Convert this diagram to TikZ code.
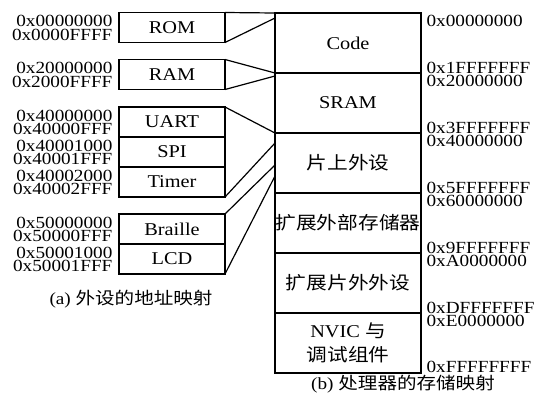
\documentclass[tikz,border=0pt]{standalone}
\usepackage{fontspec}
\setmainfont{Liberation Serif}[FakeStretch=1.13]
\newfontfamily\cjk{Noto Sans CJK SC}[FakeStretch=1.15]
\usetikzlibrary{positioning}

\begin{document}
\begin{tikzpicture}[x=0.5pt, y=-0.5pt, line width=0.6pt,
    bigbox/.style={draw, minimum width=73pt, minimum height=30pt, inner sep=0pt, outer sep=0pt, font=\fontsize{9}{11}\selectfont},
    smallbox/.style={draw, minimum width=53pt, minimum height=15pt, inner sep=0pt, outer sep=0pt, font=\fontsize{9}{10}\selectfont},
    addr/.style={inner sep=0pt, font=\fontsize{8.5}{9}\selectfont},
    caption/.style={inner sep=0pt, font=\fontsize{8.5}{10}\selectfont}]
    \useasboundingbox (0,0) rectangle (539,397);
    % processor memory map
    \node[bigbox] (code) at (348,43) {Code};
    \node[bigbox, below=0pt of code] (sram) {SRAM};
    \node[bigbox, below=0pt of sram] (onchip) {\cjk 片上外设};
    \node[bigbox, below=0pt of onchip] (extmem) {\cjk 扩展外部存储器};
    \node[bigbox, below=0pt of extmem] (extdev) {\cjk 扩展片外外设};
    \node[bigbox, below=0pt of extdev, align=center] (nvic) {NVIC {\cjk 与}\\[1pt]{\cjk 调试组件}};
    \node[addr, anchor=base west] (code-start) at ([xshift=2.5pt, yshift=-6.75pt]code.north east) {0x00000000};
    \foreach \blk/\hi/\lo in {code/0x1FFFFFFF/0x20000000, sram/0x3FFFFFFF/0x40000000, onchip/0x5FFFFFFF/0x60000000, extmem/0x9FFFFFFF/0xA0000000, extdev/0xDFFFFFFF/0xE0000000} {
        \node[addr, anchor=base west] (\blk-end) at ([xshift=2.5pt, yshift=0pt]\blk.south east) {\hi};
        \node[addr, anchor=base west] (\blk-next) at ([xshift=2.5pt, yshift=-6.5pt]\blk.south east) {\lo};
    }
    \node[addr, anchor=base west] (nvic-end) at ([xshift=2.5pt, yshift=0.5pt]nvic.south east) {0xFFFFFFFF};
    % peripheral address map
    \node[smallbox] (rom) at (172,27.5) {ROM};
    \node[smallbox] (ram) at (172,74.5) {RAM};
    \node[smallbox] (uart) at (172,122) {UART};
    \node[smallbox, below=0pt of uart] (spi) {SPI};
    \node[smallbox, below=0pt of spi] (timer) {Timer};
    \node[smallbox] (braille) at (172,229) {Braille};
    \node[smallbox, below=0pt of braille] (lcd) {LCD};
    \foreach \blk/\lo/\hi in {rom/0x00000000/0x0000FFFF, ram/0x20000000/0x2000FFFF, uart/0x40000000/0x40000FFF, spi/0x40001000/0x40001FFF, timer/0x40002000/0x40002FFF, braille/0x50000000/0x50000FFF, lcd/0x50001000/0x50001FFF} {
        \node[addr, anchor=base east] (\blk-lo) at ([xshift=-3pt, yshift=-7pt]\blk.north west) {\lo};
        \node[addr, anchor=base east] (\blk-hi) at ([xshift=-3pt, yshift=-13.75pt]\blk.north west) {\hi};
    }
    % where the small maps land
    \coordinate (rom-land) at ([yshift=-2.5pt]code.north west);
    \coordinate (ram-land) at ([yshift=-1.5pt]sram.north west);
    \coordinate (timer-land) at ([yshift=-5pt]onchip.north west);
    \coordinate (braille-land) at ([yshift=-16pt]onchip.north west);
    \coordinate (lcd-land) at ([yshift=-21.5pt]onchip.north west);
    \draw (rom.north east) -- (code.north west);
    \draw (rom.south east) -- (rom-land);
    \draw (ram.north east) -- (sram.north west);
    \draw (ram.south east) -- (ram-land);
    \draw (uart.north east) -- (onchip.north west);
    \draw (timer.south east) -- (timer-land);
    \draw (braille.north east) -- (braille-land);
    \draw (lcd.south east) -- (lcd-land);
    % captions
    \node[caption] (cap-a) at (131,299) {(a) {\cjk 外设的地址映射}};
    \node[caption] (cap-b) at (403,384) {(b) {\cjk 处理器的存储映射}};
\end{tikzpicture}
\end{document}
